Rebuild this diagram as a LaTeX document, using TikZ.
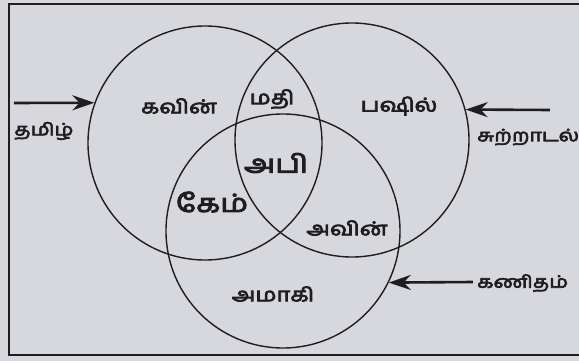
\documentclass[tikz,border=0pt]{standalone}
\usepackage{fontspec}
\newfontfamily\tamil[Script=Tamil,FakeBold=4,FakeStretch=1.25]{Hind Madurai}
\usetikzlibrary{arrows.meta}
\definecolor{paper}{RGB}{215,216,221}
\definecolor{ink}{RGB}{30,30,32}
\begin{document}
\begin{tikzpicture}[x=1pt,y=-1pt,
  set/.style={circle,draw=ink,line width=1.4pt,minimum size=234pt,inner sep=0pt},
  lbl/.style={text=ink,font=\tamil\fontsize{19}{19}\selectfont,inner sep=0pt},
  biglbl/.style={text=ink,font=\tamil\fontsize{25}{25}\selectfont,inner sep=0pt},
  sidelbl/.style={text=ink,font=\tamil\fontsize{17}{17}\selectfont,inner sep=0pt},
  arr/.style={draw=ink,line width=2.6pt,-{Stealth[length=22pt,width=15pt]}}]
\fill[paper] (0,0) rectangle (579,361);
\useasboundingbox (0,0) rectangle (579,361);
\draw[ink,line width=1.8pt] (579,4) -- (9,4) -- (9,355) -- (579,355);
\node[set] (L) at (205,143) {};
\node[set] (R) at (352,140) {};
\node[set] (B) at (283,231) {};
\node[lbl] (kavin) at (179,106) {கவின்};
\node[lbl] (mathi) at (272,99) {மதி};
\node[lbl] (pashil) at (399,106) {பஷில்};
\node[biglbl] (abi) at (276,163) {அபி};
\node[biglbl] (kem) at (212,202) {கேம்};
\node[lbl] (avin) at (347,228) {அவின்};
\node[lbl] (amaki) at (273,294) {அமாகி};
\node[sidelbl] (tamizh) at (44,131) {தமிழ்};
\node[sidelbl,anchor=west] (sutru) at (477,137) {சுற்றாடல்};
\node[sidelbl,anchor=west] (kanitham) at (477,283) {கணிதம்};
\coordinate (sA) at (14,103);
\coordinate (sR) at (550,110);
\coordinate (sB) at (473,282);
\draw[arr] (sA) -- (L.160);
\draw[arr] (sR) -- (R.15);
\draw[arr] (sB) -- (B.-26);
\end{tikzpicture}
\end{document}
